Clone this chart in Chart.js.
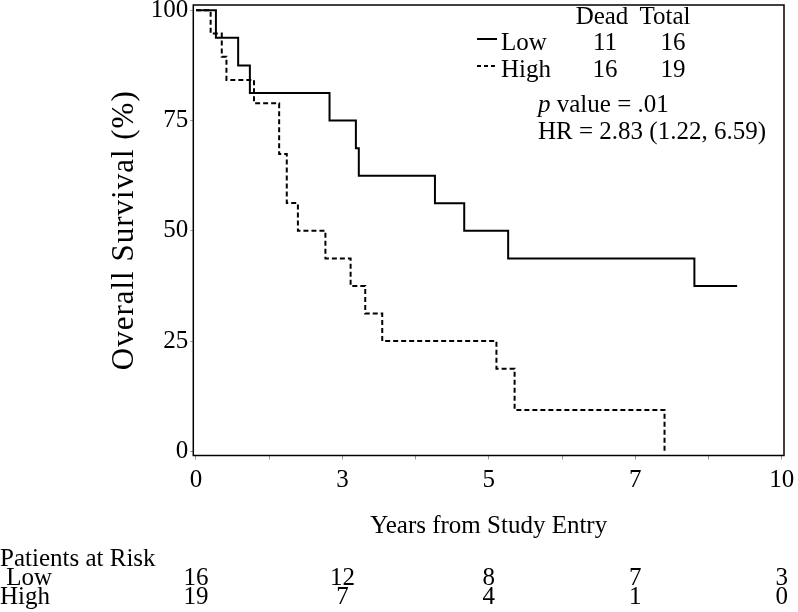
<!DOCTYPE html>
<html>
<head>
<meta charset="utf-8">
<script src="https://cdn.jsdelivr.net/npm/chart.js@4.4.1/dist/chart.umd.min.js"></script>
<style>
  html, body { margin: 0; padding: 0; background: #fff; }
  #wrap { width: 798px; height: 612px; }
</style>
</head>
<body>
<div id="wrap"><canvas id="kmChart" width="798" height="612"></canvas></div>
<script>
"use strict";

// Kaplan-Meier steps (years, % surviving)
const lowTimes = [0, 0.34, 0.72, 0.92, 2.28, 2.73, 2.78, 4.08, 4.58, 5.33, 8.51, 9.24];
const lowSurvival = [100, 93.75, 87.5, 81.25, 75, 68.75, 62.5, 56.25, 50, 43.75, 37.5, 37.5];
const highTimes = [0, 0.25, 0.44, 0.52, 0.99, 1.42, 1.55, 1.74, 2.21, 2.64, 2.89, 3.18, 5.13, 5.44, 8.0];
const highSurvival = [100, 94.74, 89.47, 84.21, 78.95, 67.4, 56.3, 50, 43.75, 37.5, 31.25, 25, 18.75, 9.4, 0];

const xTickValues = [0, 1.25, 2.5, 3.75, 5, 6.25, 7.5, 8.75, 10];
const xTickLabels = ["0", "", "3", "", "5", "", "7", "", "10"];
const yTickValues = [0, 25, 50, 75, 100];

const riskTimes = [0, 2.5, 5, 7.5, 10];
const riskLow = [16, 12, 8, 7, 3];
const riskHigh = [19, 7, 4, 1, 0];

const groupNames = ["Low", "High"];
const deadCounts = [11, 16];
const totalCounts = [16, 19];
const pValue = ".01";
const hrLabel = "HR = 2.83 (1.22, 6.59)";

const FONT = "Liberation Serif";
const fontPx = 25;

const toPoints = (xs, ys) => xs.map((t, i) => ({ x: t, y: ys[i] }));

const overlayPlugin = {
  id: "kmOverlay",
  afterDraw(chart) {
    const ctx = chart.ctx;
    const area = chart.chartArea;
    const xs = chart.scales.x;
    ctx.save();

    // frame round the plot
    ctx.strokeStyle = "#000";
    ctx.lineWidth = 1.5;
    ctx.strokeRect(area.left, area.top, area.right - area.left, area.bottom - area.top);

    ctx.fillStyle = "#000";
    ctx.font = fontPx + "px '" + FONT + "'";
    ctx.textBaseline = "middle";

    // axis titles
    ctx.textAlign = "center";
    ctx.fillText("Years from Study Entry", (area.left + area.right) / 2, 526);
    ctx.save();
    ctx.translate(125, (area.top + area.bottom) / 2);
    ctx.rotate(-Math.PI / 2);
    ctx.font = "31px '" + FONT + "'";
    ctx.letterSpacing = "1px";
    ctx.fillText("Overall Survival (%)", 0, 0);
    ctx.restore();

    // legend block
    ctx.textAlign = "center";
    ctx.fillText("Dead", 602, 17);
    ctx.fillText("Total", 665, 17);
    const rowY = [43, 70];
    groupNames.forEach((name, i) => {
      ctx.beginPath();
      ctx.lineWidth = 2;
      ctx.setLineDash(i === 0 ? [] : [4, 3]);
      ctx.moveTo(477, rowY[i] - 4);
      ctx.lineTo(497, rowY[i] - 4);
      ctx.stroke();
      ctx.setLineDash([]);
      ctx.textAlign = "left";
      ctx.fillText(name, 501, rowY[i]);
      ctx.textAlign = "center";
      ctx.fillText(String(deadCounts[i]), 605, rowY[i]);
      ctx.fillText(String(totalCounts[i]), 673, rowY[i]);
    });

    ctx.textAlign = "left";
    ctx.font = "italic " + fontPx + "px '" + FONT + "'";
    ctx.fillText("p", 538, 105);
    const pw = ctx.measureText("p").width;
    ctx.font = fontPx + "px '" + FONT + "'";
    ctx.fillText(" value = " + pValue, 538 + pw, 105);
    ctx.fillText(hrLabel, 538, 132);

    // patients at risk table
    ctx.fillText("Patients at Risk", 0, 559);
    ctx.fillText(" Low", 0, 578);
    ctx.fillText("High", 0, 597);
    ctx.textAlign = "center";
    riskTimes.forEach((t, i) => {
      const px = xs.getPixelForValue(t);
      ctx.fillText(String(riskLow[i]), px, 578);
      ctx.fillText(String(riskHigh[i]), px, 597);
    });

    ctx.restore();
  },
};

const ctx = document.getElementById("kmChart").getContext("2d");
const kmChart = new Chart(ctx, {
  type: "line",
  data: {
    datasets: [
      {
        label: "Low",
        data: toPoints(lowTimes, lowSurvival),
        borderColor: "#000",
        borderWidth: 2,
        stepped: "before",
        pointRadius: 0,
        fill: false,
      },
      {
        label: "High",
        data: toPoints(highTimes, highSurvival),
        borderColor: "#000",
        borderWidth: 2,
        borderDash: [5, 3],
        stepped: "before",
        pointRadius: 0,
        fill: false,
      },
    ],
  },
  options: {
    responsive: false,
    animation: false,
    devicePixelRatio: 1,
    layout: { padding: { left: 100, right: 14, top: 5, bottom: 0 } },
    plugins: {
      legend: { display: false },
      tooltip: { enabled: false },
    },
    scales: {
      x: {
        type: "linear",
        min: -0.046,
        max: 10.04,
        afterBuildTicks: (scale) => {
          scale.ticks = xTickValues.map((v) => ({ value: v }));
        },
        afterFit: (scale) => {
          scale.height = 612 - 455.5;
          scale.paddingLeft = 0;
          scale.paddingRight = 0;
        },
        ticks: {
          autoSkip: false,
          maxRotation: 0,
          color: "#000",
          padding: 6,
          font: { family: FONT, size: fontPx },
          callback: (value) => {
            const idx = xTickValues.indexOf(value);
            return idx >= 0 ? xTickLabels[idx] : "";
          },
        },
        grid: { drawOnChartArea: false, drawTicks: true, tickLength: 4, color: "#999" },
        border: { display: false },
      },
      y: {
        min: -0.93,
        max: 101.2,
        afterBuildTicks: (scale) => {
          scale.ticks = yTickValues.map((v) => ({ value: v }));
        },
        afterFit: (scale) => {
          scale.width = 193.3 - 100;
          scale.paddingTop = 0;
          scale.paddingBottom = 0;
        },
        ticks: {
          color: "#000",
          padding: 2,
          font: { family: FONT, size: fontPx },
        },
        grid: { drawOnChartArea: false, drawTicks: true, tickLength: 3, color: "#999" },
        border: { display: false },
      },
    },
  },
  plugins: [overlayPlugin],
});
</script>
</body>
</html>
